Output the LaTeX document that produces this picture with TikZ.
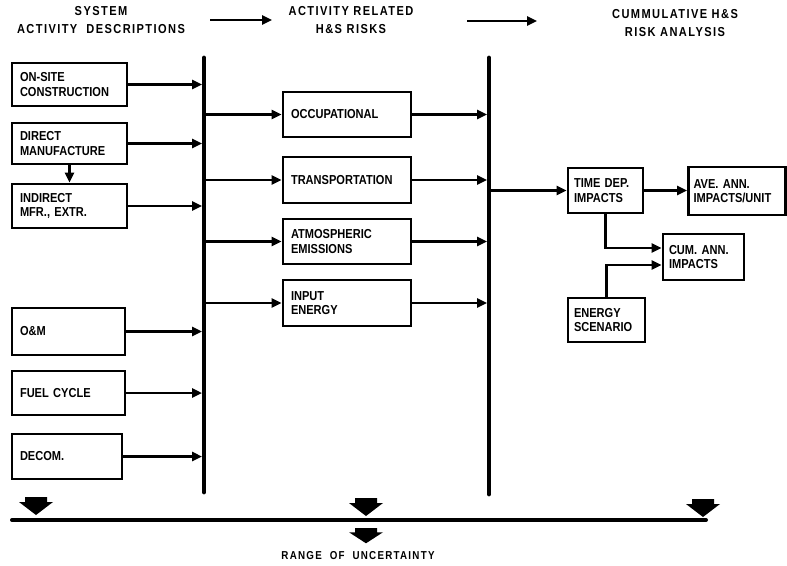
\documentclass[tikz,border=0pt]{standalone}
\usepackage{fontspec}
\setmainfont{Liberation Sans}
\newfontfamily\df[FakeStretch=0.85]{Liberation Sans}
\newfontfamily\hf[FakeStretch=0.85,LetterSpace=11]{Liberation Sans}
\usetikzlibrary{arrows.meta}
\begin{document}
\begin{tikzpicture}[x=1pt,y=-1pt,
  box/.style={draw,line width=2.6pt,inner sep=0pt,align=left,
    font=\df\bfseries\fontsize{13}{14.5}\selectfont},
  conn/.style={line width=2.4pt,-{Triangle[length=10pt,width=9pt]}},
  bus/.style={line width=4.8pt,line cap=round},
  hdr/.style={font=\hf\bfseries\fontsize{13}{17.5}\selectfont,align=center,inner sep=0pt},
  downblk/.pic={\fill (-11,0)--(11,0)--(11,5)--(17,5)--(0,18)--(-17,5)--(-11,5)--cycle;}]
\useasboundingbox (0,0) rectangle (787,565);

% headers
\node[hdr] (h1) at (101,20) {SYSTEM\\ACTIVITY\ \ DESCRIPTIONS};
\node[hdr] (h2) at (351,20) {ACTIVITY RELATED\\H\&S RISKS};
\node[hdr] (h3) at (675,23) {CUMMULATIVE H\&S\\RISK ANALYSIS};
\coordinate (a1s) at (210,20); \coordinate (a1e) at (272,20);
\coordinate (a2s) at (467,21); \coordinate (a2e) at (537,21);
\draw[conn] (a1s) -- (a1e);
\draw[conn] (a2s) -- (a2e);

% left boxes
\node[box,minimum width=115pt,minimum height=43pt,text width=99pt] (onsite) at (69.5,84.5) {ON-SITE\\CONSTRUCTION};
\node[box,minimum width=115pt,minimum height=41pt,text width=99pt] (direct) at (69.5,143.5) {DIRECT\\MANUFACTURE};
\node[box,minimum width=115pt,minimum height=44pt,text width=99pt] (indirect) at (69.5,206) {INDIRECT\\MFR., EXTR.};
\node[box,minimum width=113pt,minimum height=47pt,text width=97pt] (om) at (68.5,331.5) {O\&M};
\node[box,minimum width=113pt,minimum height=44pt,text width=97pt] (fuel) at (68.5,393) {FUEL CYCLE};
\node[box,minimum width=110pt,minimum height=45pt,text width=94pt] (decom) at (67,456.5) {DECOM.};

% middle boxes
\node[box,minimum width=128pt,minimum height=45pt,text width=112pt] (occ) at (347,114.5) {OCCUPATIONAL};
\node[box,minimum width=128pt,minimum height=46pt,text width=112pt] (trans) at (347,180) {TRANSPORTATION};
\node[box,minimum width=128pt,minimum height=45pt,text width=112pt] (atm) at (347,241.5) {ATMOSPHERIC\\EMISSIONS};
\node[box,minimum width=128pt,minimum height=46pt,text width=112pt] (input) at (347,303) {INPUT\\ENERGY};

% right boxes
\node[box,minimum width=75pt,minimum height=45pt,text width=63pt] (timedep) at (605.5,190.5) {TIME DEP.\\IMPACTS};
\node[box,minimum width=97pt,minimum height=48pt,text width=87pt] (ave) at (737,191) {AVE. ANN.\\IMPACTS/UNIT};
\node[box,minimum width=81pt,minimum height=46pt,text width=69pt] (cum) at (703.5,257) {CUM. ANN.\\IMPACTS};
\node[box,minimum width=77pt,minimum height=44pt,text width=65pt] (energy) at (606.5,320) {ENERGY\\SCENARIO};

% buses
\coordinate (b1t) at (204,58); \coordinate (b1b) at (204,492);
\coordinate (b2t) at (489,58); \coordinate (b2b) at (489,494);
\draw[bus] (b1t) -- (b1b);
\draw[bus] (b2t) -- (b2b);

% left -> bus 1
\foreach \n in {onsite,direct,indirect,om,fuel,decom}
  \draw[conn,shorten >=2pt] (\n.east) -- (\n.east -| b1t);
\draw[conn] (direct.south) -- (indirect.north);

% bus 1 -> middle -> bus 2
\foreach \n in {occ,trans,atm,input}{
  \draw[conn] (\n.west -| b1t) -- (\n.west);
  \draw[conn,shorten >=2pt] (\n.east) -- (\n.east -| b2t);
}

% right side
\draw[conn] (timedep.west -| b2t) -- (timedep.west);
\draw[conn] (timedep.east) -- (timedep.east -| ave.west);
\draw[conn] (timedep.south) |- ([yshift=9pt]cum.west);
\draw[conn] (energy.north) |- ([yshift=-8pt]cum.west);

% bottom uncertainty band
\coordinate (ls) at (12,520); \coordinate (le) at (706,520);
\draw[line width=4pt,line cap=round] (ls) -- (le);
\pic at (36,497) {downblk};
\pic at (366,498) {downblk};
\pic at (703,499) {downblk};
\pic[yscale=0.85] at (366,528) {downblk};
\node[font=\hf\bfseries\fontsize{11.5}{13}\selectfont,inner sep=0pt] (range) at (358,556) {RANGE\ \ OF\ \ UNCERTAINTY};
\end{tikzpicture}
\end{document}
